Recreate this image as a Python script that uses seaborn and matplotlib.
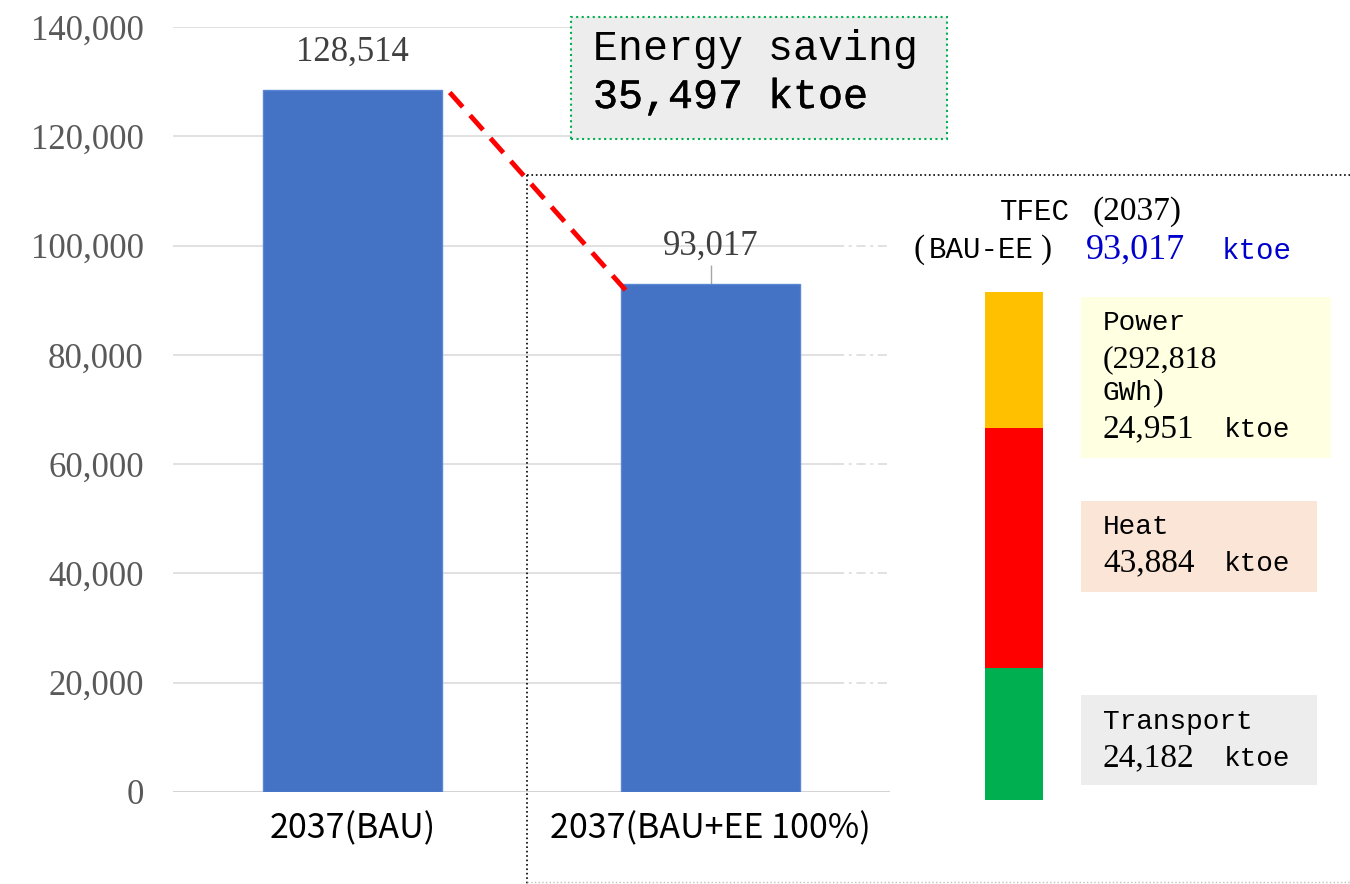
import matplotlib
matplotlib.use("Agg")
import matplotlib.pyplot as plt
import matplotlib.patheffects as pe
import seaborn as sns
import pandas as pd
from matplotlib.patches import Rectangle
from matplotlib.lines import Line2D

# ---------------- data ----------------
scenarios = ["2037(BAU)", "2037(BAU+EE 100%)"]
tfec_values = [128514, 93017]
saving_value = 35497
sector_names = ["Transport", "Heat", "Power"]
sector_values = [24182, 43884, 24951]
sector_colors = ["#00B050", "#FF0000", "#FFC000"]
power_gwh = 292818
y_ticks = [0, 20000, 40000, 60000, 80000, 100000, 120000, 140000]

SERIF = "Liberation Serif"
MONO = "Liberation Mono"
SANS = "Noto Sans CJK KR"

sns.set_style("white")

W, H = 1350, 884
fig = plt.figure(figsize=(W / 100, H / 100), dpi=100)


def fpos(x, y):
    return x / W, 1 - y / H


def T(x, y, s, family, size, color="black", weight="normal", ha="left", va="baseline",
      stroke=0):
    fx, fy = fpos(x, y)
    t = fig.text(fx, fy, s, fontfamily=family, fontsize=size, color=color,
                 weight=weight, ha=ha, va=va)
    if stroke:
        t.set_path_effects([pe.withStroke(linewidth=stroke, foreground=color)])
    return t


def box(x0, y0, x1, y1, fc, ec="none", ls="-", lw=0):
    fx, fy = fpos(x0, y1)
    fig.add_artist(Rectangle((fx, fy), (x1 - x0) / W, (y1 - y0) / H,
                             transform=fig.transFigure, facecolor=fc,
                             edgecolor=ec, linestyle=ls, linewidth=lw, zorder=2))


# ---------------- main axes ----------------
ax = fig.add_axes([173 / W, (H - 792) / H, 717 / W, 765 / H])
df = pd.DataFrame({"scenario": scenarios, "tfec": tfec_values})
sns.barplot(data=df, x="scenario", y="tfec", color="#4472C4", saturation=1,
            width=0.5, edgecolor="#5B87D6", linewidth=1, ax=ax, zorder=3)
ax.set_xlim(-0.5, 1.5)
ax.set_ylim(0, 140000)
ax.set_xlabel("")
ax.set_ylabel("")
for s in ax.spines.values():
    s.set_visible(False)
ax.grid(False)

# gridlines: solid, with a dash-dot tail at the right
split = (835 - 173) / 717
for v in y_ticks:
    if v == 0:
        ax.axhline(v, xmin=0, xmax=1, color="#D0D0D0", lw=1.3, zorder=1)
    else:
        ax.axhline(v, xmin=0, xmax=split, color="#D9D9D9", lw=1.1, zorder=1)
        ax.axhline(v, xmin=split, xmax=1, color="#D9D9D9", lw=1.1, zorder=1,
                   linestyle=(0, (6, 3, 2, 3)))

ax.set_yticks(y_ticks)
ax.set_yticklabels([f"{v:,}" for v in y_ticks], fontfamily=SERIF, fontsize=25,
                   color="#595959")
ax.set_xticks(range(len(scenarios)))
ax.set_xticklabels(scenarios, fontfamily=SANS, fontsize=24.5, color="black")
ax.tick_params(axis="y", length=0, pad=21)
ax.tick_params(axis="x", length=0, pad=14)

ax.bar_label(ax.containers[0], labels=[f"{v:,}" for v in tfec_values],
             padding=15, fontfamily=SERIF, fontsize=25, color="#404040")

# leader tick above second bar
ax.vlines(1, tfec_values[1], tfec_values[1] + 3500, color="#A6A6A6", lw=1, zorder=2)

# red dashed saving line from bar 1 top-right to bar 2 top-left
x_start = 0 + 0.25 + 0.022
x_end = 1 - 0.25 + 0.014
ax.plot([x_start, x_end], [tfec_values[0] - 500, tfec_values[1] - 1300],
        color="#FF0000", lw=3.5, linestyle=(0, (4, 2.3)), clip_on=False, zorder=4,
        solid_capstyle="butt", dash_capstyle="butt")

# ---------------- energy saving box ----------------
box(571, 17, 947, 139, "#EDEDED", ec="#00B050", ls=":", lw=1.5)
T(593, 60, "Energy saving", MONO, 30)
T(593, 108, f"{saving_value:,} ktoe", MONO, 30, stroke=0.35)

# ---------------- dotted frame ----------------
fig.add_artist(Line2D([527 / W, 1], [1 - 175 / H, 1 - 175 / H], transform=fig.transFigure,
                      color="black", lw=1.2, linestyle=":"))
fig.add_artist(Line2D([527 / W, 527 / W], [1 - 175 / H, 1 - 884 / H], transform=fig.transFigure,
                      color="black", lw=1.2, linestyle=":"))
fig.add_artist(Line2D([527 / W, 1], [1 - 882 / H, 1 - 882 / H], transform=fig.transFigure,
                      color="#BFBFBF", lw=1.0, linestyle=":"))

# ---------------- TFEC title ----------------
T(1000, 220, "TFEC", MONO, 21)
T(1092, 220, "(2037)", SERIF, 24)
T(914, 258, "(", SERIF, 24)
T(929, 258, "BAU-EE", MONO, 21)
T(1041, 258, ")", SERIF, 24)
T(1086, 259, f"{tfec_values[1]:,}", SERIF, 26, color="#0000CC")
T(1222, 259, "ktoe", MONO, 21, color="#0000CC")

# ---------------- stacked sector bar ----------------
ax2 = fig.add_axes([985 / W, (H - 800) / H, 58 / W, 765 / H])
cum = []
total = 0
for v in sector_values:
    total += v
    cum.append(total)
for name, c, col in reversed(list(zip(sector_names, cum, sector_colors))):
    sns.barplot(x=["TFEC"], y=[c], color=col, saturation=1, width=1.0, ax=ax2,
                linewidth=0)
ax2.set_xlim(-0.5, 0.5)
ax2.set_ylim(0, 140000)
ax2.axis("off")

# ---------------- sector label boxes ----------------
box(1081, 297, 1331, 458, "#FFFFE1")
T(1103, 330, "Power", MONO, 20)
T(1103, 367, f"({power_gwh:,}", SERIF, 23)
T(1103, 400, "GWh", MONO, 20)
T(1153, 400, ")", SERIF, 23)
T(1103, 437, f"{sector_values[2]:,}", SERIF, 24)
T(1224, 437, "ktoe", MONO, 20)

box(1081, 501, 1317, 592, "#FBE5D6")
T(1103, 534, "Heat", MONO, 20)
T(1103, 571, f"{sector_values[1]:,}", SERIF, 24)
T(1224, 571, "ktoe", MONO, 20)

box(1081, 695, 1317, 785, "#EDEDED")
T(1103, 729, "Transport", MONO, 20)
T(1103, 766, f"{sector_values[0]:,}", SERIF, 24)
T(1224, 766, "ktoe", MONO, 20)

fig.savefig("out.png", dpi=100, facecolor="white")
